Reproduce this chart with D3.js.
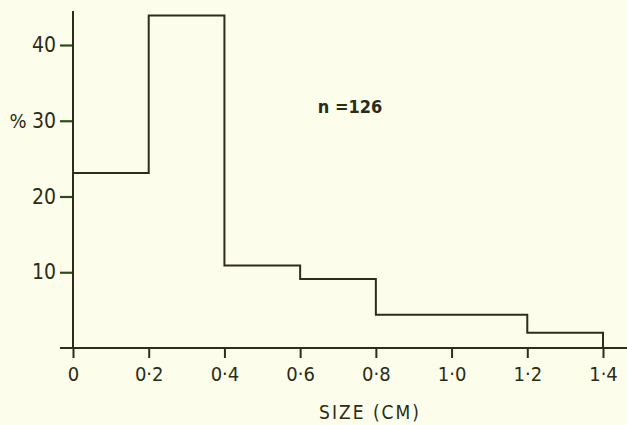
<!DOCTYPE html>
<html>
<head>
<meta charset="utf-8">
<script src="https://cdn.jsdelivr.net/npm/d3@7"></script>
<style>
  body { margin: 0; background: #fdfdec; }
  svg { display: block; }
  text { font-family: "DejaVu Sans Condensed", "DejaVu Sans", sans-serif; fill: #2b2c16; }
</style>
</head>
<body>
<div id="chart-container"></div>
<script>
// bin edges (cm) and percentages
const binStarts = [0, 0.2, 0.4, 0.6, 0.8, 1.0, 1.2];
const binEnds = [0.2, 0.4, 0.6, 0.8, 1.0, 1.2, 1.4];
const percents = [23.1, 43.9, 10.9, 9.1, 4.4, 4.4, 2.0];
const xTicks = [0, 0.2, 0.4, 0.6, 0.8, 1.0, 1.2, 1.4];
const xTickLabels = ['0', '0·2', '0·4', '0·6', '0·8', '1·0', '1·2', '1·4'];
const yTicks = [10, 20, 30, 40];

const width = 627, height = 425;
const ink = '#2e2c1c';
const labelFont = '"DejaVu Sans Condensed", "DejaVu Sans", sans-serif';

const svg = d3.select('#chart-container')
  .append('svg')
  .attr('width', width)
  .attr('height', height);

const x = d3.scaleLinear().domain([0, 1.4]).range([73, 603]);
const y = d3.scaleLinear().domain([0, 40]).range([348, 45]);

// step outline of the histogram
const pts = [[0, 0]];
binStarts.forEach((s, i) => {
  pts.push([s, percents[i]]);
  pts.push([binEnds[i], percents[i]]);
});
pts.push([1.4, 0]);

svg.append('path')
  .attr('d', d3.line().x(d => x(d[0])).y(d => y(d[1]))(pts))
  .attr('fill', 'none')
  .attr('stroke', ink)
  .attr('stroke-width', 2);

// x axis
const xAxis = svg.append('g')
  .attr('transform', `translate(0, ${y(0)})`)
  .call(d3.axisBottom(x).tickValues(xTicks).tickFormat((d, i) => xTickLabels[i]).tickSize(10).tickPadding(9).tickSizeOuter(0));
xAxis.select('.domain').remove();
xAxis.append('line')
  .attr('x1', 60).attr('x2', width)
  .attr('stroke', ink).attr('stroke-width', 2);
xAxis.selectAll('.tick line').attr('stroke', ink).attr('stroke-width', 2);
xAxis.selectAll('.tick text')
  .attr('font-size', 20)
  .attr('fill', '#2b2c16')
  .attr('font-family', labelFont);

// y axis
const yAxis = svg.append('g')
  .attr('transform', `translate(${x(0)}, 0)`)
  .call(d3.axisLeft(y).tickValues(yTicks).tickSize(13).tickPadding(4).tickSizeOuter(0));
yAxis.select('.domain').remove();
yAxis.append('line')
  .attr('y1', 11).attr('y2', y(0))
  .attr('stroke', ink).attr('stroke-width', 2);
yAxis.selectAll('.tick line').attr('stroke', '#2f4a1c').attr('stroke-width', 2.2);
yAxis.selectAll('.tick text')
  .attr('font-size', 21)
  .attr('fill', '#2b2c16')
  .attr('font-family', labelFont);

// labels
svg.append('text')
  .attr('x', 18).attr('y', y(30) + 7)
  .attr('text-anchor', 'middle')
  .attr('font-size', 20)
  .text('%');

svg.append('text')
  .attr('x', 370).attr('y', 419)
  .attr('text-anchor', 'middle')
  .attr('font-size', 19)
  .attr('letter-spacing', 2)
  .text('SIZE (CM)');

svg.append('text')
  .attr('x', 350).attr('y', 113)
  .attr('text-anchor', 'middle')
  .attr('font-size', 18)
  .attr('font-weight', 600)
  .text('n =126');
</script>
</body>
</html>
